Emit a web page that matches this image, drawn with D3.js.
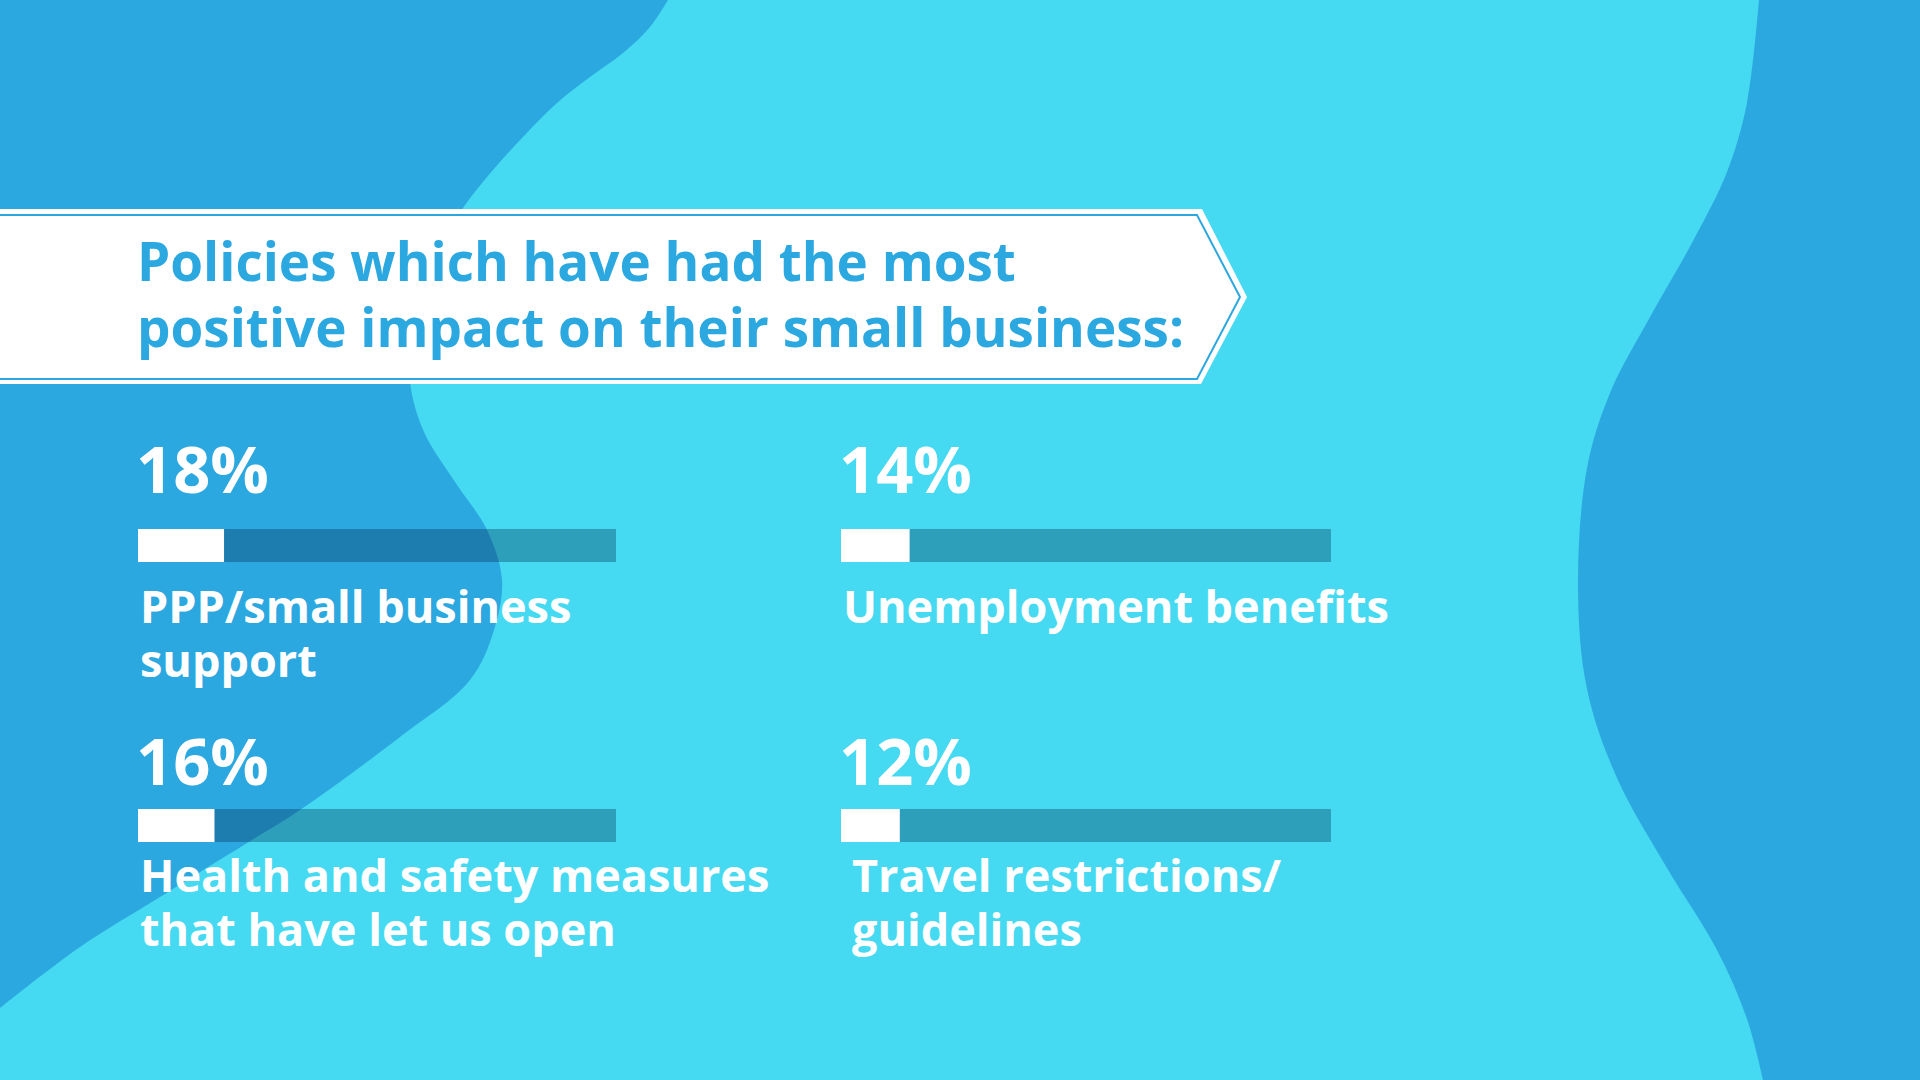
<!DOCTYPE html>
<html>
<head>
<meta charset="utf-8">
<script src="https://cdn.jsdelivr.net/npm/d3@7"></script>
<style>
  html, body { margin: 0; padding: 0; background: #45DAF1; }
  svg { display: block; }
  text { font-family: "Open Sans", "Lato", sans-serif; font-weight: 700; }
</style>
</head>
<body>
<svg id="chart" width="1920" height="1080"></svg>
<script>
// ---- data ----
const categories = [
  "PPP/small business support",
  "Unemployment benefits",
  "Health and safety measures that have let us open",
  "Travel restrictions/ guidelines"
];
const labelLines = [
  ["PPP/small business", "support"],
  ["Unemployment benefits"],
  ["Health and safety measures", "that have let us open"],
  ["Travel restrictions/", "guidelines"]
];
const values = [18, 14, 16, 12];
const valueLabels = ["18%", "14%", "16%", "12%"];
const titleLines = [
  "Policies which have had the most",
  "positive impact on their small business:"
];

// ---- style / layout ----
const W = 1920, H = 1080;
const C_LIGHT = "#45DAF1", C_DARK = "#2CA8E0";
const svg = d3.select("#chart");

// background
svg.append("rect").attr("width", W).attr("height", H).attr("fill", C_LIGHT);

const smooth = d3.line().curve(d3.curveCatmullRom.alpha(0.5));
const leftEdge = [[668,0],[650,27],[623,53],[590,77],[557,103],[523,137],[493,170],[463,208],
  [432,262],[412,322],[410,382],[424,432],[455,482],[487,530],[502,580],[494,630],[470,680],
  [400,737],[300,810],[247,843],[160,897],[80,947],[0,1008]];
svg.append("path")
  .attr("d", smooth(leftEdge) + "L0,0Z")
  .attr("fill", C_DARK);

const rightEdge = [[1759,0],[1747,103],[1727,172],[1693,241],[1650,317],[1610,393],[1587,468],
  [1578,585],[1587,689],[1617,778],[1667,868],[1717,950],[1747,1019],[1763,1080]];
svg.append("path")
  .attr("d", smooth(rightEdge) + "L1920,1080L1920,0Z")
  .attr("fill", C_DARK);

// banner
svg.append("path")
  .attr("d", "M-10,209L1202,209L1247,297L1201,384L-10,384Z")
  .attr("fill", "#ffffff");
svg.append("path")
  .attr("d", "M-10,215L1197,215L1240,297L1197,379L-10,379Z")
  .attr("fill", "none")
  .attr("stroke", C_DARK)
  .attr("stroke-width", 2);

svg.append("g").selectAll("text")
  .data(titleLines).join("text")
  .attr("x", 137)
  .attr("y", (d, i) => 281 + i * 66)
  .attr("fill", C_DARK)
  .attr("font-size", 53)
  .text(d => d);

// grid of bars
const colStart = [138, 841];
const colWidth = [478, 490];
const rowBar = [529, 809];
const rowPct = [493, 785];
const barH = 33;

const items = categories.map((c, i) => ({
  cat: c, value: values[i], label: valueLabels[i], lines: labelLines[i],
  col: i % 2, row: Math.floor(i / 2)
}));

const xScales = colStart.map((s, k) => d3.scaleLinear().domain([0, 100]).range([s, s + colWidth[k]]));

const g = svg.append("g").selectAll("g.item").data(items).join("g").attr("class", "item");

// tracks
g.append("rect")
  .attr("x", d => xScales[d.col](0))
  .attr("y", d => rowBar[d.row])
  .attr("width", d => xScales[d.col](100) - xScales[d.col](0))
  .attr("height", barH)
  .attr("fill", "rgb(0,40,75)")
  .attr("fill-opacity", 0.33);

// value fill
g.append("rect")
  .attr("x", d => xScales[d.col](0))
  .attr("y", d => rowBar[d.row])
  .attr("width", d => xScales[d.col](d.value) - xScales[d.col](0))
  .attr("height", barH)
  .attr("fill", "#ffffff");

// percent labels
g.append("text")
  .attr("x", d => xScales[d.col](0) - 2)
  .attr("y", d => rowPct[d.row])
  .attr("fill", "#ffffff")
  .attr("font-size", 65)
  .text(d => d.label);

// category labels
g.each(function(d, i) {
  const t = d3.select(this).append("text")
    .attr("fill", "#ffffff")
    .attr("font-size", 45);
  const x0 = xScales[d.col](0) + (i === 3 ? 11 : 2);
  t.selectAll("tspan").data(d.lines).join("tspan")
    .attr("x", x0)
    .attr("y", (l, j) => rowBar[d.row] + barH + 61 + j * 54 - (d.row === 1 ? 11 : 0))
    .text(l => l);
});
</script>
</body>
</html>
